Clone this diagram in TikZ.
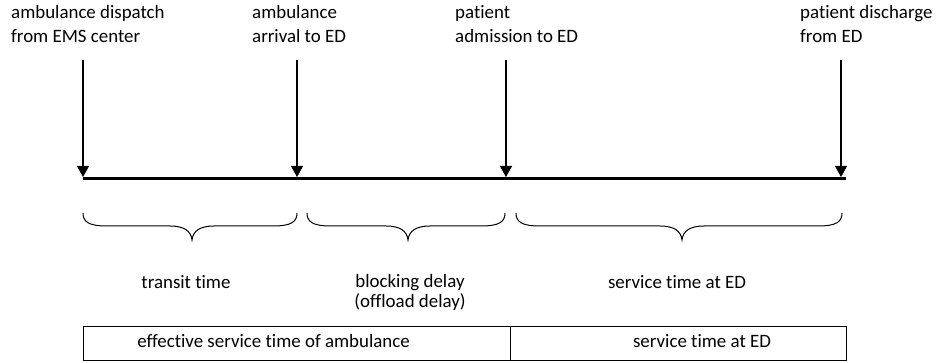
\documentclass[tikz,border=0pt]{standalone}
\usepackage{fontspec}
\setmainfont{Carlito}[Ligatures=NoCommon]
\usetikzlibrary{arrows.meta}
\newcommand\wordbrace[3]{%
 \draw[bracepath] (#1,213) .. controls (#1,222) and (#1+6,226) .. (#1+24,226) -- (#2-22,226) .. controls (#2-8,226) and (#2-1,231) .. (#2,240) .. controls (#2+1,231) and (#2+8,226) .. (#2+22,226) -- (#3-24,226) .. controls (#3-6,226) and (#3,222) .. (#3,213);}
\begin{document}
\begin{tikzpicture}[x=1pt,y=-1pt,
 lbl/.style={inner sep=0pt, align=left, font=\fontsize{18.9}{24}\selectfont, anchor=base west},
 mid/.style={inner sep=0pt, align=center, font=\fontsize{18.9}{19.5}\selectfont, anchor=base},
 evt/.style={line width=1.3pt, -{Triangle[width=12pt,length=11pt]}},
 timeline/.style={line width=3pt},
 bracepath/.style={line width=1pt},
 cell/.style={draw, line width=1.2pt, inner sep=0pt, anchor=north west, minimum height=34pt}]
\useasboundingbox (0,0) rectangle (936,363);
% event labels (base anchor = last line)
\node[lbl] (l1) at (11,43) {ambulance dispatch\\from EMS center};
\node[lbl] (l2) at (252,43) {ambulance\\arrival to ED};
\node[lbl] (l3) at (455,43) {patient\\admission to ED};
\node[lbl] (l4) at (800,43) {patient discharge\\from ED};
% arrow starts and ends
\coordinate (s1) at (83,60);  \coordinate (e1) at (83,177);
\coordinate (s2) at (297,60); \coordinate (e2) at (297,177);
\coordinate (s3) at (506,60); \coordinate (e3) at (506,177);
\coordinate (s4) at (841,60); \coordinate (e4) at (841,177);
\coordinate (tl0) at (83,178.5); \coordinate (tl1) at (846,178.5);
\draw[timeline] (tl0) -- (tl1);
\draw[evt] (s1) -- (e1);
\draw[evt] (s2) -- (e2);
\draw[evt] (s3) -- (e3);
\draw[evt] (s4) -- (e4);
% braces
\wordbrace{83}{192}{297}
\wordbrace{307}{408}{505}
\wordbrace{516}{682}{842}
% interval labels
\node[mid] (p1) at (186,288) {transit time};
\node[mid] (p2) at (410,307) {blocking delay\\(offload delay)};
\node[mid] (p3) at (677,288) {service time at ED};
% bottom box
\node[cell, minimum width=427pt] (c1) at (83,326) {};
\node[cell, minimum width=336pt] (c2) at (510,326) {};
\node[mid] (t1) at (273.5,347) {effective service time of ambulance};
\node[mid] (t2) at (702,347) {service time at ED};
\end{tikzpicture}
\end{document}
